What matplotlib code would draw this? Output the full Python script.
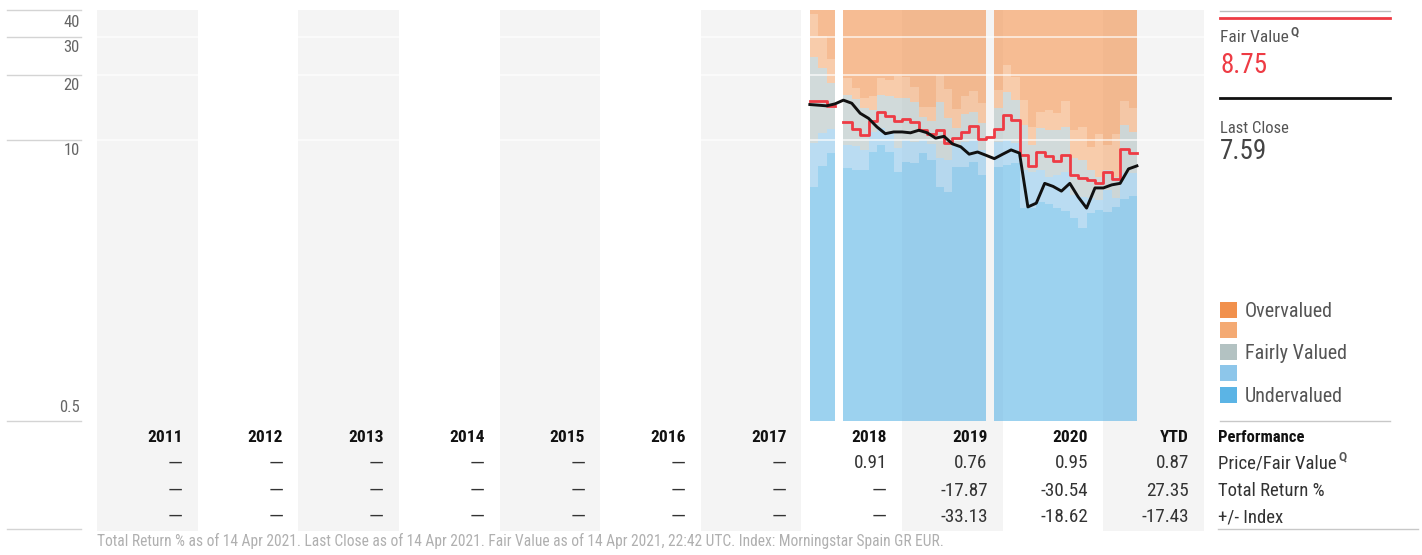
import matplotlib
matplotlib.use("Agg")
import matplotlib.pyplot as plt
import matplotlib.transforms as mtransforms
from matplotlib.lines import Line2D
from matplotlib.patches import Rectangle
from matplotlib import font_manager
import numpy as np

# prefer a narrow face when one is installed, else Roboto
FONT, STRETCH = 'Roboto', 'normal'
entries = font_manager.fontManager.ttflist
for fam in ['Roboto Condensed', 'Liberation Sans Narrow', 'Noto Sans', 'Open Sans']:
    hit = [f for f in entries if f.name == fam and
           ('condensed' in str(f.stretch) or 'Narrow' in fam or 'Condensed' in fam)]
    if hit:
        FONT = fam
        STRETCH = 'condensed' if 'condensed' in str(hit[0].stretch) else 'normal'
        break
plt.rcParams['font.family'] = [FONT, 'DejaVu Sans']
plt.rcParams['font.stretch'] = STRETCH

# ---- data -------------------------------------------------------------
# monthly rating bands, Feb 2018 .. Apr 2021 (nan = no rating that month)
# band edges: 5-star/4-star, 4-star/3-star, 3-star/2-star, 2-star/1-star
band_5_4 = [6.06, 7.58, 8.71, np.nan, 7.42, 7.27, 7.27, 8.80, 9.48, 8.80, 7.11,
            7.91, 7.83, 8.71, 8.08, 6.06, 5.74, 7.50, 7.50, 7.91, 6.89, np.nan, 7.50,
            7.66, 7.83, 4.84, 4.84, 5.16, 5.05, 4.84, 4.69, 4.35, 3.91, 4.59, 4.74,
            4.64, 4.90, 5.33, 5.50]
band_4_3 = [9.69, 10.8, 11.2, np.nan, 9.48, 9.38, 8.99, 10.9, 11.4, 10.9, 9.18,
            10.0, 9.79, 10.0, 9.58, 8.25, 8.08, 9.48, 9.79, 10.0, 8.99, np.nan, 9.79,
            10.0, 9.69, 7.27, 7.11, 7.27, 6.74, 6.89, 7.11, 5.56, 5.44, 5.39, 5.28,
            5.87, 5.39, 7.04, 7.04]
band_3_2 = [24.2, 21.5, 18.4, np.nan, 16.2, 15.5, 14.1, 13.8, 16.2, 16.0, 15.6,
            15.6, 15.0, 12.8, 12.2, 15.0, 12.6, 11.4, 13.2, 13.5, 12.0, np.nan, 14.1,
            16.7, 15.3, 11.7, 9.48, 11.4, 11.1, 11.1, 11.5, 8.25, 8.08, 7.27, 6.74,
            7.27, 6.74, 11.7, 10.9]
band_2_1 = [38.3, 30.3, 23.7, np.nan, 19.4, 17.4, 15.6, 16.0, 19.4, 19.0, 19.8,
            19.6, 17.6, 14.2, 14.2, 20.0, 17.2, 13.9, 16.0, 16.9, 14.8, np.nan, 17.0,
            22.3, 19.6, 15.3, 11.5, 13.5, 13.8, 13.3, 15.1, 11.1, 11.5, 9.28, 10.7,
            9.48, 10.7, 15.1, 14.1]
fair_value = [15.2, 15.2, 14.4, np.nan, 12.1, 11.2, 10.5, 12.2, 13.5, 12.9, 12.3,
              12.5, 12.1, 11.1, 10.7, 11.1, 9.7, 10.2, 10.9, 11.6, 10.1, 10.3, 11.2,
              13.0, 12.4, 8.5, 7.6, 8.8, 8.4, 8.0, 8.5, 6.9, 6.7, 6.5, 6.3,
              7.1, 6.6, 9.05, 8.75]
# closing price at each month boundary, 1 Feb 2018 .. last close
close = [14.6, 14.5, 14.4, 14.7, 15.3, 14.8, 13.3, 12.6, 11.5, 10.7, 10.9,
         10.9, 10.8, 11.1, 10.8, 10.2, 10.4, 9.6, 9.3, 8.6, 8.8, 8.5, 8.2,
         8.6, 9.0, 8.7, 4.9, 5.1, 6.3, 6.1, 5.8, 6.3, 5.45, 4.84, 6.0,
         6.0, 6.2, 6.3, 7.35, 7.59]

years = ['2011', '2012', '2013', '2014', '2015', '2016', '2017', '2018', '2019', '2020', 'YTD']
price_fair_value = [None] * 7 + [0.91, 0.76, 0.95, 0.87]
total_return = [None] * 8 + [-17.87, -30.54, 27.35]
plus_minus_index = [None] * 8 + [-33.13, -18.62, -17.43]
y_grid = [40, 30, 20, 10, 0.5]
y_grid_labels = ['40', '30', '20', '10', '0.5']

last_fair_value = '8.75'
last_close = '7.59'

footer = ("Total Return % as of 14 Apr 2021. Last Close as of 14 Apr 2021. "
          "Fair Value as of 14 Apr 2021, 22:42 UTC. Index: Morningstar Spain GR EUR.")

# ---- styling ----------------------------------------------------------
C_UNDER = '#5bb4e5'
C_UNDER_LT = '#8dc6ea'
C_FAIR = '#b3c2c2'
C_OVER_LT = '#f4aa73'
C_OVER = '#f1904c'
C_RED = '#ee3b44'
C_COL = '#f4f4f4'
Y_MIN, Y_MAX = 0.5, 40

W, H = 1422, 555
fig = plt.figure(figsize=(W / 100, H / 100), dpi=100)


def fx(px):
    return px / W


def fy(py):
    return 1 - py / H


def pt(px):
    return px * 0.72


# alternating year columns behind chart and table
bg = fig.add_axes([fx(97), fy(531), fx(1204 - 97), (531 - 10) / H])
bg.set_xlim(2011, 2022)
bg.set_ylim(0, 1)
bg.axis('off')
for i in range(len(years)):
    if i % 2 == 0:
        bg.axvspan(2011 + i, 2012 + i, color=C_COL, lw=0)

ax = fig.add_axes([fx(97), fy(421), fx(1204 - 97), (421 - 10) / H])
ax.patch.set_alpha(0)
ax.set_yscale('log')
ax.set_xlim(2011, 2022)
ax.set_ylim(Y_MIN, Y_MAX)
for s in ax.spines.values():
    s.set_visible(False)
ax.set_xticks([])
ax.set_yticks([])
ax.set_yticks([], minor=True)

n = len(fair_value)
edges = 2018 + (np.arange(n + 1) + 1) / 12
b1, b2, b3, b4 = (np.array(b) for b in (band_5_4, band_4_3, band_3_2, band_2_1))
layers = [(np.full(n, Y_MIN), b1, C_UNDER), (b1, b2, C_UNDER_LT), (b2, b3, C_FAIR),
          (b3, b4, C_OVER_LT), (b4, np.full(n, Y_MAX), C_OVER)]
for lo, hi, c in layers:
    ax.bar(edges[:-1], hi - lo, bottom=lo, width=1 / 12, align='edge',
           color=c, alpha=0.6, lw=0, antialiased=False, zorder=2)

for v in y_grid[1:-1]:
    ax.axhline(v, color='white', lw=1.1, alpha=0.8, zorder=3)

ax.step(edges, np.append(fair_value, fair_value[-1]), where='post',
        color=C_RED, lw=2.0, zorder=4)
ax.plot(edges, close, color='#111111', lw=2.1, zorder=5, solid_joinstyle='round')

# left-hand scale
yblend = mtransforms.blended_transform_factory(fig.transFigure, ax.transData)
label_drop = [17, 15, 15, 15, -9]
for v, lab, d in zip(y_grid, y_grid_labels, label_drop):
    fig.add_artist(Line2D([fx(7), fx(81)], [v, v], transform=yblend,
                          color='#d4d4d4', lw=1))
    ax.annotate(lab, xy=(fx(80), v), xycoords=yblend, xytext=(0, -pt(d)),
                textcoords='offset points', ha='right', va='baseline',
                fontsize=12, color='#666666', annotation_clip=False)
fig.add_artist(Line2D([fx(7), fx(81)], [fy(529), fy(529)], color='#d4d4d4', lw=1))

# performance table
tblend = mtransforms.blended_transform_factory(bg.transData, fig.transFigure)
row_base = [442, 468.5, 495.5, 522]


def cell(i, text, row, **kw):
    ax.annotate(text, xy=(2012 + i, fy(row_base[row])), xycoords=tblend,
                xytext=(-pt(15), 0), textcoords='offset points',
                ha='right', va='baseline', annotation_clip=False, **kw)


def value_cell(i, v, row):
    if v is None:
        # empty years get a wide dash
        cell(i, '\u2014', row, fontsize=13.8, color='#333333',
             fontfamily=['Roboto', 'DejaVu Sans'], fontstretch='normal')
    else:
        cell(i, f'{v:.2f}', row, fontsize=13.8, color='#333333')


for i, yr in enumerate(years):
    cell(i, yr, 0, fontsize=12.5, fontweight='bold', color='#111111')
    value_cell(i, price_fair_value[i], 1)
    value_cell(i, total_return[i], 2)
    value_cell(i, plus_minus_index[i], 3)

fig.text(fx(1218), fy(row_base[0]), 'Performance', fontsize=12, fontweight='bold',
         color='#111111', va='baseline')
pfv = fig.text(fx(1218), fy(row_base[1]), 'Price/Fair Value', fontsize=13.5,
               color='#333333', va='baseline')
fig.text(fx(1218), fy(row_base[2]), 'Total Return %', fontsize=13.5,
         color='#333333', va='baseline')
fig.text(fx(1218), fy(row_base[3]), '+/- Index', fontsize=13.5,
         color='#333333', va='baseline')
fig.add_artist(Line2D([fx(1220), fx(1390)], [fy(421), fy(421)], color='#c8c8c8', lw=1))
fig.add_artist(Line2D([fx(1218), fx(1418)], [fy(529), fy(529)], color='#c8c8c8', lw=1))

# fair value / last close panel
fig.add_artist(Line2D([fx(1220), fx(1390)], [fy(10.5), fy(10.5)], color='#bdbdbd', lw=1))
fig.add_artist(Line2D([fx(1220), fx(1390)], [fy(17.5), fy(17.5)], color=C_RED, lw=2))
fv_lab = fig.text(fx(1220), fy(42), 'Fair Value', fontsize=12.5, color='#555555',
                  va='baseline')
fig.text(fx(1220), fy(73), last_fair_value, fontsize=19.5, color=C_RED, va='baseline')
fig.add_artist(Line2D([fx(1220), fx(1390)], [fy(98), fy(98)], color='#111111', lw=2))
fig.text(fx(1220), fy(133), 'Last Close', fontsize=12, color='#555555', va='baseline')
fig.text(fx(1220), fy(159), last_close, fontsize=19.5, color='#444444', va='baseline')

# quantitative-rating marker after the fair value labels
for t in (fv_lab, pfv):
    ax.annotate('Q', xy=(1, 1), xycoords=t, xytext=(1.5, 3),
                textcoords='offset points', ha='left', va='top',
                fontsize=8.5, fontweight='bold', color='#555555',
                fontfamily=['Roboto', 'DejaVu Sans'], fontstretch='normal')

# legend
legend_items = [(C_OVER, 'Overvalued'), (C_OVER_LT, ''), (C_FAIR, 'Fairly Valued'),
                (C_UNDER_LT, ''), (C_UNDER, 'Undervalued')]
legend_top = [302, 322, 343.5, 365, 387]
for (c, lab), top in zip(legend_items, legend_top):
    fig.add_artist(Rectangle((fx(1220), fy(top + 16)), fx(17), 16 / H,
                             transform=fig.transFigure, color=c, lw=0))
    if lab:
        fig.text(fx(1245), fy(top + 15.2), lab, fontsize=14.5, color='#555555',
                 va='baseline')

fig.text(fx(97), fy(546), footer, fontsize=11.2, color='#b0b0b0', va='baseline')

fig.savefig('out.png', dpi=100)
